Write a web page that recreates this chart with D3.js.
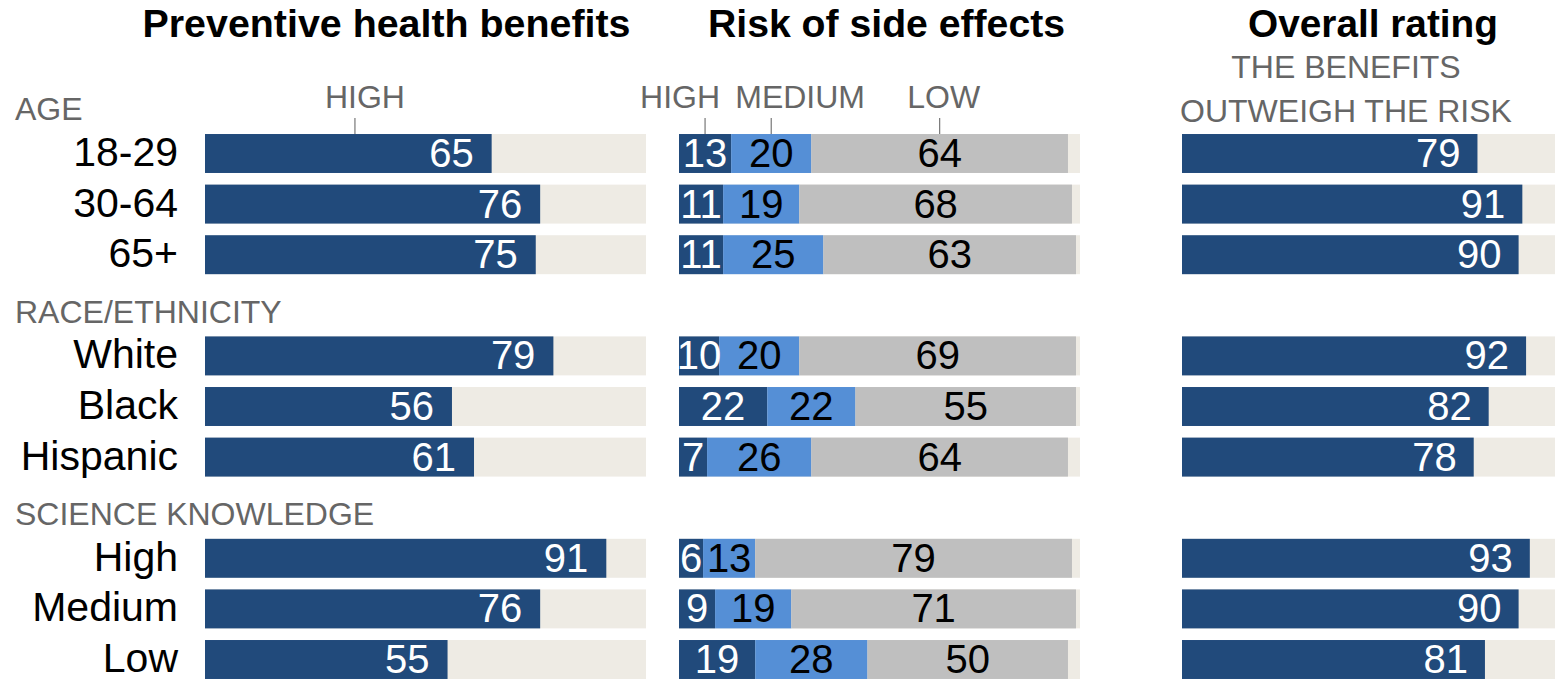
<!DOCTYPE html>
<html>
<head>
<meta charset="utf-8">
<script src="https://cdn.jsdelivr.net/npm/d3@7"></script>
<style>
  html, body { margin: 0; padding: 0; background: #fff; }
  svg { display: block; }
  text { font-family: "Liberation Sans", Arial, sans-serif; }
</style>
</head>
<body>
<svg id="chart" width="1555" height="679"></svg>
<script>
// ---------------- data ----------------
const groupLabels = ["AGE", "RACE/ETHNICITY", "SCIENCE KNOWLEDGE"];
const categories = ["18-29", "30-64", "65+", "White", "Black", "Hispanic", "High", "Medium", "Low"];
const categoryGroup = [0, 0, 0, 1, 1, 1, 2, 2, 2];
const benefitsHigh = [65, 76, 75, 79, 56, 61, 91, 76, 55];
const riskHigh = [13, 11, 11, 10, 22, 7, 6, 9, 19];
const riskMedium = [20, 19, 25, 20, 22, 26, 13, 19, 28];
const riskLow = [64, 68, 63, 69, 55, 64, 79, 71, 50];
const overallBenefits = [79, 91, 90, 92, 82, 78, 93, 90, 81];
const panelTitles = ["Preventive health benefits", "Risk of side effects", "Overall rating"];
const riskLabels = ["HIGH", "MEDIUM", "LOW"];
const benefitLabel = "HIGH";
const overallSubtitle = ["THE BENEFITS", "OUTWEIGH THE RISK"];

// ---------------- layout ----------------
const svg = d3.select("#chart");
const C_DARK = "#214a7b", C_MED = "#558fd6", C_GRAY = "#bfbfbf", C_BG = "#eeebe4", C_LABEL = "#666666";

// row keys: group header rows interleaved with category rows
const rowKeys = [];
groupLabels.forEach((g, gi) => {
  rowKeys.push("group:" + gi);
  categories.forEach((c, i) => { if (categoryGroup[i] === gi) rowKeys.push("cat:" + i); });
});
const y = d3.scaleBand().domain(rowKeys).range([77.6, 77.6 + 607.2]).paddingInner(0.23).paddingOuter(0.115);
const bh = y.bandwidth();

const x1 = d3.scaleLinear().domain([0, 100]).range([205, 646]);
const x2 = d3.scaleLinear().domain([0, 100]).range([679, 1080]);
const x3 = d3.scaleLinear().domain([0, 100]).range([1182, 1556]);

const rows = categories.map((c, i) => ({
  i, c, key: "cat:" + i,
  b: benefitsHigh[i], rh: riskHigh[i], rm: riskMedium[i], rl: riskLow[i], o: overallBenefits[i]
}));

// ---------------- titles ----------------
const titleSpec = [
  { t: panelTitles[0], x: 386.5, w: 488 },
  { t: panelTitles[1], x: 886.5, w: 357 },
  { t: panelTitles[2], x: 1373, w: 250 }
];
svg.selectAll("text.title").data(titleSpec).join("text")
  .attr("class", "title")
  .attr("x", d => d.x).attr("y", 37)
  .attr("text-anchor", "middle")
  .attr("font-size", 38).attr("font-weight", "bold").attr("fill", "#000")
  .attr("textLength", d => d.w).attr("lengthAdjust", "spacingAndGlyphs")
  .text(d => d.t);

// ---------------- group headers & category labels ----------------
svg.selectAll("text.group").data(groupLabels).join("text")
  .attr("class", "group")
  .attr("x", 15).attr("y", (d, gi) => y("group:" + gi) + 37)
  .attr("font-size", 32).attr("fill", C_LABEL)
  .text(d => d);

svg.selectAll("text.cat").data(rows).join("text")
  .attr("class", "cat")
  .attr("x", 178).attr("y", d => y(d.key) + 32)
  .attr("text-anchor", "end")
  .attr("font-size", 41).attr("fill", "#000")
  .text(d => d.c);

// ---------------- panel 1: preventive health benefits ----------------
const p1 = svg.append("g");
p1.selectAll("rect.bg").data(rows).join("rect")
  .attr("x", x1(0)).attr("y", d => y(d.key)).attr("width", x1(100) - x1(0)).attr("height", bh)
  .attr("fill", C_BG);
p1.selectAll("rect.v").data(rows).join("rect")
  .attr("x", x1(0)).attr("y", d => y(d.key)).attr("width", d => x1(d.b) - x1(0)).attr("height", bh)
  .attr("fill", C_DARK);
p1.selectAll("text.v").data(rows).join("text")
  .attr("x", d => x1(d.b) - 18).attr("y", d => y(d.key) + 33)
  .attr("text-anchor", "end").attr("font-size", 40).attr("fill", "#fff")
  .text(d => d.b);
const t1 = x1(34);
p1.append("line").attr("x1", t1).attr("x2", t1).attr("y1", 118).attr("y2", y(rowKeys[1]))
  .attr("stroke", "#777").attr("stroke-width", 1.2);
p1.append("text").attr("x", t1 + 10).attr("y", 108).attr("text-anchor", "middle")
  .attr("font-size", 32).attr("fill", C_LABEL).text(benefitLabel);

// ---------------- panel 2: risk of side effects ----------------
const p2 = svg.append("g");
p2.selectAll("rect.bg").data(rows).join("rect")
  .attr("x", x2(0)).attr("y", d => y(d.key)).attr("width", x2(100) - x2(0)).attr("height", bh)
  .attr("fill", C_BG);
const segs = [];
rows.forEach(r => {
  let acc = 0;
  [[r.rh, C_DARK, "#fff"], [r.rm, C_MED, "#000"], [r.rl, C_GRAY, "#000"]].forEach(([v, col, tc], k) => {
    segs.push({ key: r.key, x0: acc, x1: acc + v, v, col, tc, k });
    acc += v;
  });
});
p2.selectAll("rect.seg").data(segs).join("rect")
  .attr("x", d => x2(d.x0)).attr("y", d => y(d.key))
  .attr("width", d => x2(d.x1) - x2(d.x0)).attr("height", bh)
  .attr("fill", d => d.col);
p2.selectAll("text.seg").data(segs).join("text")
  .attr("x", d => x2((d.x0 + d.x1) / 2)).attr("y", d => y(d.key) + 33)
  .attr("text-anchor", "middle").attr("font-size", 40).attr("fill", d => d.tc)
  .text(d => d.v);
// legend ticks at the centres of the first row segments
const firstSegs = segs.filter(s => s.key === rows[0].key);
const labelShift = [{ a: "end", dx: 15 }, { a: "start", dx: -36 }, { a: "middle", dx: 4 }];
firstSegs.forEach((s, k) => {
  const tx = x2((s.x0 + s.x1) / 2);
  p2.append("line").attr("x1", tx).attr("x2", tx).attr("y1", 118).attr("y2", y(rows[0].key))
    .attr("stroke", "#777").attr("stroke-width", 1.2);
  p2.append("text").attr("x", tx + labelShift[k].dx).attr("y", 108)
    .attr("text-anchor", labelShift[k].a).attr("font-size", 32).attr("fill", C_LABEL)
    .text(riskLabels[k]);
});

// ---------------- panel 3: overall rating ----------------
const p3 = svg.append("g");
p3.selectAll("rect.bg").data(rows).join("rect")
  .attr("x", x3(0)).attr("y", d => y(d.key)).attr("width", x3(100) - x3(0)).attr("height", bh)
  .attr("fill", C_BG);
p3.selectAll("rect.v").data(rows).join("rect")
  .attr("x", x3(0)).attr("y", d => y(d.key)).attr("width", d => x3(d.o) - x3(0)).attr("height", bh)
  .attr("fill", C_DARK);
p3.selectAll("text.v").data(rows).join("text")
  .attr("x", d => x3(d.o) - 17).attr("y", d => y(d.key) + 33)
  .attr("text-anchor", "end").attr("font-size", 40).attr("fill", "#fff")
  .text(d => d.o);
p3.selectAll("text.sub").data(overallSubtitle).join("text")
  .attr("x", 1346).attr("y", (d, k) => 78 + k * 44)
  .attr("text-anchor", "middle").attr("font-size", 32).attr("fill", C_LABEL)
  .text(d => d);
</script>
</body>
</html>
